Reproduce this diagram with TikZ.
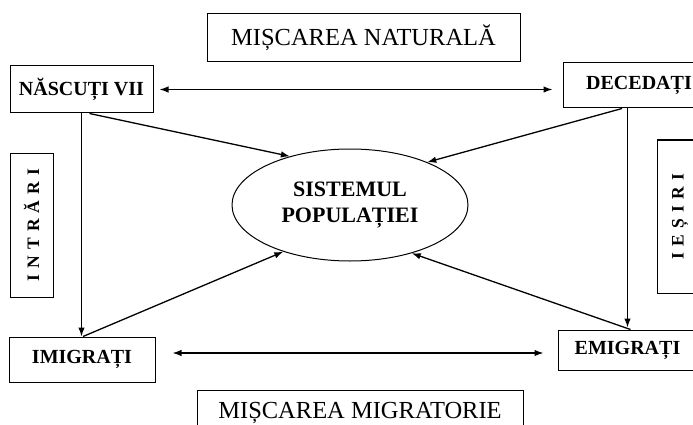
\documentclass[tikz,border=0pt]{standalone}
\usepackage{fontspec}
\setmainfont{Liberation Serif}
\newfontfamily\spacedfont[LetterSpace=35]{Liberation Serif}
\usetikzlibrary{shapes.geometric,arrows.meta}

\tikzset{
  labelbox/.style={draw,line width=1pt,inner sep=0pt,font=\fontsize{20}{23}\selectfont\bfseries},
  titlebox/.style={draw,line width=1pt,inner sep=0pt,font=\fontsize{24.5}{27}\selectfont},
  sidebox/.style={draw,line width=1pt,inner sep=0pt,rotate=90,font=\fontsize{17.5}{19}\spacedfont\bfseries},
  flow/.style={line width=1.3pt,-{Latex[length=9pt,width=6.5pt]}},
  twoway/.style={line width=1.3pt,{Latex[length=9pt,width=6.5pt]}-{Latex[length=9pt,width=6.5pt]}},
}

\begin{document}
\begin{tikzpicture}[x=1pt,y=-1pt]
  \useasboundingbox (0,0) rectangle (693,425);
  \clip (0,0) rectangle (693,425);
  % titles
  \node[titlebox,minimum width=313pt,minimum height=48pt] (natural) at (363.5,38) {MIȘCAREA NATURALĂ};
  \node[titlebox,minimum width=326pt,minimum height=46pt] (migrator) at (360,413) {MIȘCAREA MIGRATORIE};
  % corner boxes
  \node[labelbox,minimum width=143pt,minimum height=47pt] (nascuti) at (81.5,89.5) {NĂSCUȚI VII};
  \node[labelbox,minimum width=152pt,minimum height=45pt] (decedati) at (639,85.5) {DECEDAȚI};
  \node[labelbox,minimum width=146pt,minimum height=45pt] (imigrati) at (82,359.5) {IMIGRAȚI};
  \node[labelbox,minimum width=139pt,minimum height=40pt] (emigrati) at (627.5,350) {EMIGRAȚI};
  % side boxes
  \node[sidebox,minimum width=144pt,minimum height=43pt] (intrari) at (31.5,225) {INTRĂRI};
  \node[sidebox,minimum width=153pt,minimum height=46pt] (iesiri) at (680,216.5) {IEȘIRI};
  % system
  \node[ellipse,draw,line width=1pt,minimum width=236pt,minimum height=112pt,inner sep=0pt,
        align=center,font=\fontsize{22}{26}\selectfont\bfseries] (sistem) at (350,205) {SISTEMUL\\POPULAȚIEI};
  % horizontal links
  \draw[twoway,shorten <=6pt,shorten >=10pt] (nascuti.east) -- (nascuti.east -| decedati.west);
  \draw[twoway,shorten <=17pt,shorten >=14pt] ([yshift=-3pt]emigrati.west -| imigrati.east) -- ([yshift=-3pt]emigrati.west);
  % vertical links
  \draw[flow] (nascuti.south) -- (nascuti.south |- imigrati.north);
  \draw[flow,shorten >=2pt] (emigrati.north |- decedati.south) -- (emigrati.north);
  % into the system
  \draw[flow] ([xshift=8pt]nascuti.south) -- (sistem.141);
  \draw[flow] ([xshift=-17pt]decedati.south) -- (sistem.29);
  \draw[flow] ([xshift=1pt]imigrati.north) -- (sistem.215);
  \draw[flow] ([xshift=3pt]emigrati.north) -- (sistem.-38);
\end{tikzpicture}
\end{document}
